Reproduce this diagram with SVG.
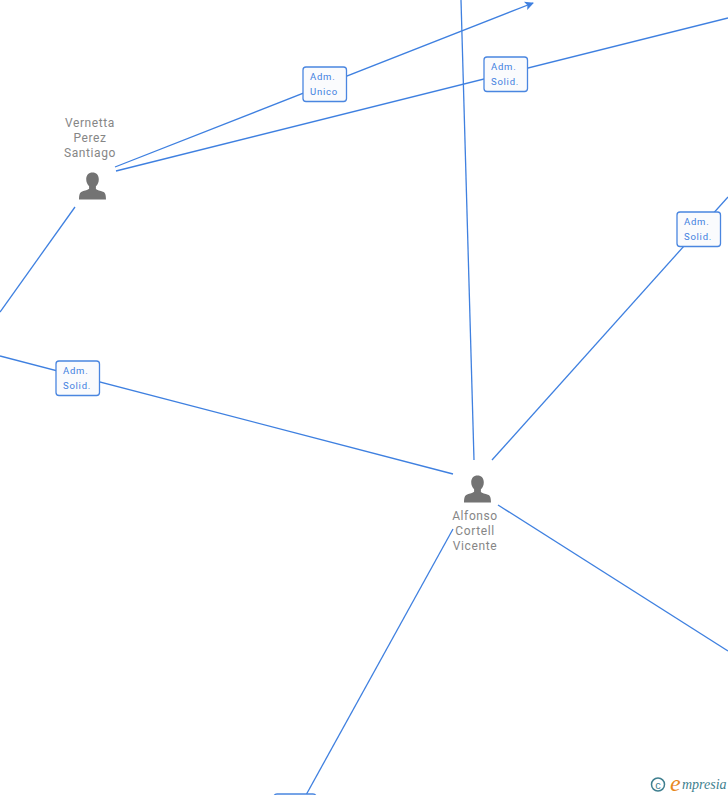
<svg xmlns="http://www.w3.org/2000/svg" width="728" height="795" viewBox="0 0 728 795">
<defs>
<style>
.c{stroke:#3f80e0;stroke-width:1.3;fill:none}
.b{fill:#fafbfd;stroke:#4a86e0;stroke-width:1.3}
.l{font:9.5px "Roboto","Liberation Sans",sans-serif;fill:#3f80e0;letter-spacing:.75px}
.n{font:12px "Roboto","Liberation Sans",sans-serif;fill:#868686;text-anchor:middle;letter-spacing:.6px}
.p{fill:#737373}
</style>
<marker id="a" markerWidth="10" markerHeight="10" refX="8" refY="4.5" orient="auto" markerUnits="userSpaceOnUse"><path d="M0 0L9 4.500L0 9L2 4.500Z" fill="#3f80e0"/></marker>
<symbol id="person" viewBox="0 0 28 28"><path class="p" d="M14 0.500c-3.800 0-6.300 2.600-6.300 6.600 0 3 1.100 5.600 2.900 7.100v2.600c-1 1.200-4.400 1.800-7 2.800C1.300 20.500.6 22.500.5 27.500h27c-.1-5-.8-7-3.100-7.800-2.600-1-6-1.600-7-2.800v-2.600c1.800-1.500 2.900-4.100 2.900-7.100 0-4-2.500-6.600-6.300-6.600z"/></symbol>
</defs>
<g id="connectors">
<path class="c" d="M115 167L533 3" marker-end="url(#a)"/>
<path class="c" d="M116 171L728 18"/>
<path class="c" d="M461 0L474 460"/>
<path class="c" d="M492 460L728 197"/>
<path class="c" d="M0 356L453 474"/>
<path class="c" d="M75 207L0 312"/>
<path class="c" d="M453 529L306 795"/>
<path class="c" d="M498 505L728 651"/>
</g>
<g id="node-vernetta">
<text class="n" x="90" y="127">Vernetta</text>
<text class="n" x="90" y="142">Perez</text>
<text class="n" x="90" y="157">Santiago</text>
<use href="#person" x="78.500" y="172" width="28" height="28"/>
</g>
<g id="node-alfonso">
<use href="#person" x="463.500" y="475" width="28" height="28"/>
<text class="n" x="475" y="520">Alfonso</text>
<text class="n" x="475" y="535">Cortell</text>
<text class="n" x="475" y="550">Vicente</text>
</g>
<g id="label-unico">
<rect class="b" x="303" y="67" width="43.500" height="34.500" rx="3"/>
<text class="l" x="310" y="80">Adm.</text>
<text class="l" x="310" y="95">Unico</text>
</g>
<g id="label-solid-1">
<rect class="b" x="484" y="57" width="43.500" height="34.500" rx="3"/>
<text class="l" x="491" y="70">Adm.</text>
<text class="l" x="491" y="85">Solid.</text>
</g>
<g id="label-solid-2">
<rect class="b" x="677" y="212" width="43.500" height="34.500" rx="3"/>
<text class="l" x="684" y="225">Adm.</text>
<text class="l" x="684" y="240">Solid.</text>
</g>
<g id="label-solid-3">
<rect class="b" x="56" y="361" width="43.500" height="34.500" rx="3"/>
<text class="l" x="63" y="374">Adm.</text>
<text class="l" x="63" y="389">Solid.</text>
</g>
<g id="label-bottom">
<rect class="b" x="274" y="794" width="42" height="12" rx="3"/>
</g>
<g id="logo">
<circle cx="658" cy="784.500" r="6.500" fill="none" stroke="#3f7f8f" stroke-width="1.500"/>
<text x="658" y="788.500" font-family="'Liberation Sans',sans-serif" font-size="11" fill="#3f7f8f" text-anchor="middle">c</text>
<text x="670" y="791" font-family="'Liberation Serif',serif" font-style="italic" font-size="24" fill="#e8891c">e</text>
<text x="682" y="789" font-family="'Liberation Serif',serif" font-style="italic" font-size="14" fill="#3f7f8f">mpresia</text>
</g>
</svg>
